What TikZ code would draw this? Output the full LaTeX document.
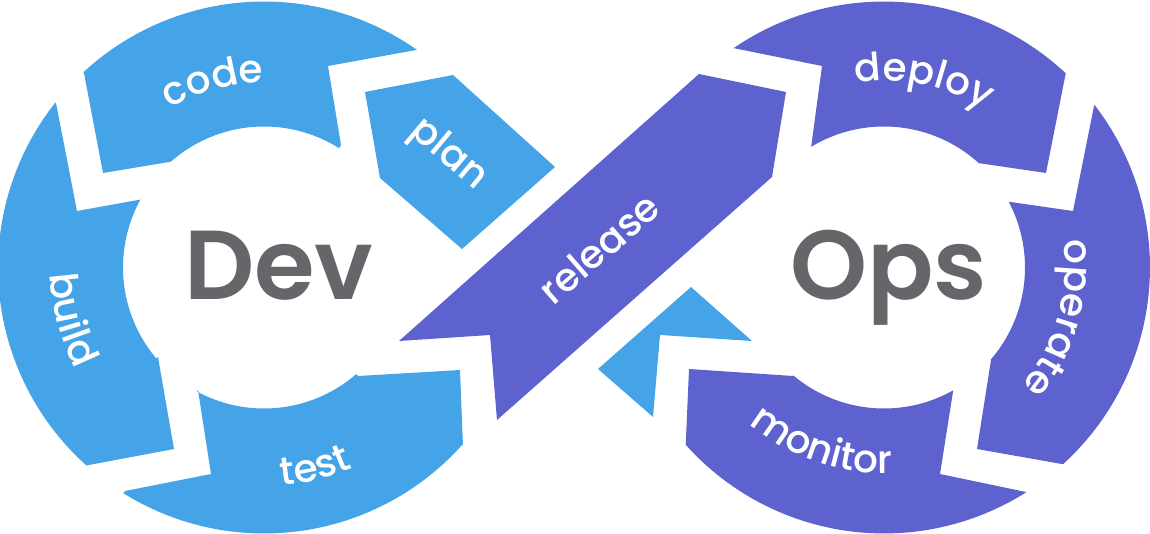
\documentclass[tikz,border=0pt]{standalone}
\usepackage{fontspec}
\setmainfont{Poppins}
\newfontfamily\lblfam{Poppins Medium}
\newfontfamily\bigfam{Poppins SemiBold}
\usetikzlibrary{decorations.text}
\definecolor{devblue}{HTML}{45A3E7}
\definecolor{opspurple}{HTML}{5D62CF}
\definecolor{txtgray}{HTML}{666569}
\newcommand\lblfont{\lblfam\fontsize{39}{42}\selectfont}
\begin{document}
\begin{tikzpicture}[x=1pt,y=-1pt,
  big/.style={text=txtgray, font=\bigfam\fontsize{98}{100}\selectfont, inner sep=0pt, anchor=base west},
  lbl/.style={decorate, decoration={text along path, text align=center, text color=white}}]
\useasboundingbox (0,0) rectangle (1150,534);
% ---------- left loop (Dev) centre (264,267.5), R=266, r=141
% code
\fill[devblue] (84,73)
  -- plot[domain=-132.8:-54.9, samples=40, variable=\t] ({264+266*cos(\t)},{267.5+266*sin(\t)})
  -- (328,66) -- (341,145)
  -- plot[domain=-57.8:-131.4, samples=40, variable=\t] ({264+141*cos(\t)},{267.5+141*sin(\t)})
  -- (103,173) -- cycle;
% build
\fill[devblue] (56,103)
  -- plot[domain=-141.7:-228.1, samples=40, variable=\t] ({264+266*cos(\t)},{267.5+266*sin(\t)})
  -- (174,449) -- (158,357)
  -- plot[domain=139.8:208.8, samples=40, variable=\t] ({264+141*cos(\t)},{267.5+141*sin(\t)})
  -- (77,211) -- cycle;
% test
\fill[devblue] (198,390) -- (211,474) -- (125,491)
  -- plot[domain=121.9:41.6, samples=40, variable=\t] ({264+266*cos(\t)},{267.5+266*sin(\t)})
  -- (460,370) -- (358,376)
  -- plot[domain=49.1:118.3, samples=40, variable=\t] ({264+141*cos(\t)},{267.5+141*sin(\t)})
  -- cycle;
% plan (upper part and tail below release)
\fill[devblue] (365,92) -- (453,75) -- (555,167) -- (462,249) -- (380,178) -- cycle;
\fill[devblue] (691,287) -- (752,341) -- (660,335) -- (653,417) -- (598,369) -- cycle;
% release
\fill[opspurple] (699,74) -- (786,92) -- (772,177) -- (497,420) -- (490,335) -- (399,341) -- cycle;
% ---------- right loop (Ops) centre (884,267.5)
% deploy
\fill[opspurple] (733,48)
  -- plot[domain=-124.5:-46.9, samples=40, variable=\t] ({884+266*cos(\t)},{267.5+266*sin(\t)})
  -- (1046,173) -- (978,163)
  -- plot[domain=-48.0:-121.1, samples=40, variable=\t] ({884+141*cos(\t)},{267.5+141*sin(\t)})
  -- (822,66) -- cycle;
% operate
\fill[opspurple] (1094,106)
  -- plot[domain=-37.6:47.7, samples=40, variable=\t] ({884+266*cos(\t)},{267.5+266*sin(\t)})
  -- (977,449) -- (991,360)
  -- plot[domain=40.8:-27.8, samples=40, variable=\t] ({884+141*cos(\t)},{267.5+141*sin(\t)})
  -- (1073,211) -- cycle;
% monitor
\fill[opspurple] (689,369) -- (793,376)
  -- plot[domain=130.0:60.6, samples=40, variable=\t] ({884+141*cos(\t)},{267.5+141*sin(\t)})
  -- (940,474) -- (1026,492)
  -- plot[domain=57.7:138.2, samples=40, variable=\t] ({884+266*cos(\t)},{267.5+266*sin(\t)})
  -- cycle;
% ---------- curved labels
\path[lbl, decoration={text={|\lblfont|code}}]
  plot[domain=-150.3:-60.3, samples=60, variable=\t] ({264+185*cos(\t)},{267.5+185*sin(\t)});
\path[lbl, decoration={text={|\lblfont|build}}]
  plot[domain=209.9:119.9, samples=60, variable=\t] ({264+214*cos(\t)},{267.5+214*sin(\t)});
\path[lbl, decoration={text={|\lblfont|test}}]
  plot[domain=120.7:30.7, samples=60, variable=\t] ({264+219*cos(\t)},{267.5+219*sin(\t)});
\path[lbl, decoration={text={|\lblfont|deploy}}]
  plot[domain=-123:-33, samples=60, variable=\t] ({884+187*cos(\t)},{267.5+187*sin(\t)});
\path[lbl, decoration={text={|\lblfont|operate}}]
  plot[domain=-29:61, samples=60, variable=\t] ({884+181*cos(\t)},{267.5+181*sin(\t)});
\path[lbl, decoration={text={|\lblfont|monitor}}]
  plot[domain=154.3:64.3, samples=60, variable=\t] ({884+206*cos(\t)},{267.5+206*sin(\t)});
% ---------- straight labels
\node[text=white, font=\lblfont, inner sep=0pt, rotate=-40] (plan) at (448,155) {plan};
\node[text=white, font=\lblfont, inner sep=0pt, rotate=41] (release) at (599,248) {release};
% ---------- Dev / Ops
\node[big] (dev) at (184,300) {Dev};
\node[big] (ops) at (790,300) {Ops};
\end{tikzpicture}
\end{document}
